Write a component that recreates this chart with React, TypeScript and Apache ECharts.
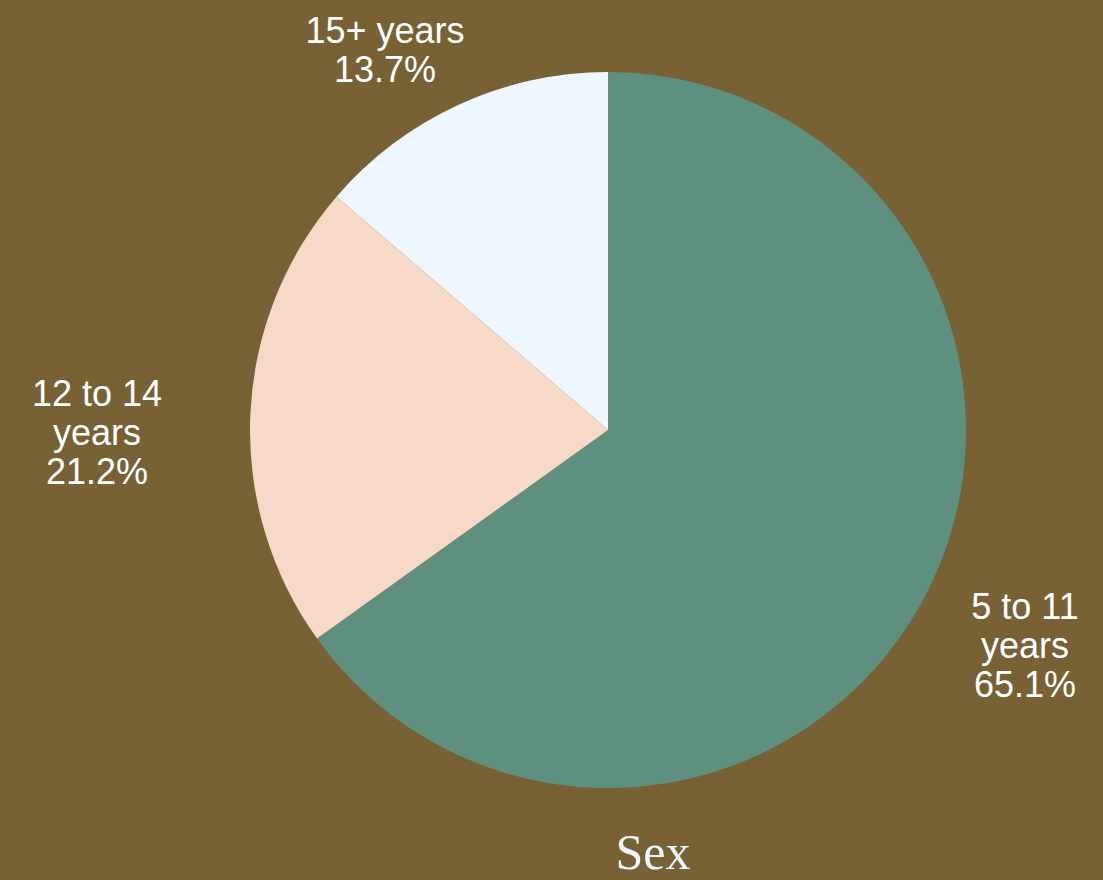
import React, { useEffect, useRef } from "react";
import * as echarts from "echarts";

const categories = ["5 to 11 years", "12 to 14 years", "15+ years"];
const labelNames = ["5 to 11\nyears", "12 to 14\nyears", "15+ years"];
const values = [65.1, 21.2, 13.7];
const colors = ["#5f8f7e", "#f7d9c7", "#eef6fe"];
const titleText = "Sex";

export default function App() {
  const ref = useRef<HTMLDivElement>(null);
  useEffect(() => {
    document.body.style.margin = "0";
    const chart = echarts.init(ref.current!, null, { renderer: "svg" });
    const cx = 608;
    const cy = 430;
    const R = 358;
    // label centres (layout only)
    const labelPos = [
      [1025, 645],
      [97, 432],
      [385, 50],
    ];
    chart.setOption({
      animation: false,
      backgroundColor: "#786134",
      title: {
        text: titleText,
        left: 648,
        top: 822,
        textAlign: "center",
        textStyle: {
          fontFamily: "Liberation Serif",
          fontSize: 50,
          fontWeight: "normal",
          color: "#eef6fe",
        },
      },
      series: [
        {
          type: "pie",
          center: [cx, cy],
          radius: R,
          startAngle: 90,
          clockwise: true,
          avoidLabelOverlap: false,
          data: categories.map((c, i) => ({
            name: c,
            value: values[i],
            itemStyle: { color: colors[i] },
          })),
          label: {
            show: true,
            position: "outside",
            color: "#ffffff",
            fontFamily: "Liberation Sans",
            fontSize: 36,
            lineHeight: 39,
            align: "center",
            formatter: (p: any) => `${labelNames[p.dataIndex]}\n${values[p.dataIndex].toFixed(1)}%`,
          },
          labelLine: { show: false },
          labelLayout: (params: any) => {
            const i = params.dataIndex;
            return {
              x: labelPos[i][0],
              y: labelPos[i][1],
              align: "center",
              verticalAlign: "middle",
            };
          },
        },
      ],
    });
    return () => chart.dispose();
  }, []);
  return (
    <div
      ref={ref}
      style={{ position: "fixed", left: 0, top: 0, width: 1103, height: 880 }}
    />
  );
}
